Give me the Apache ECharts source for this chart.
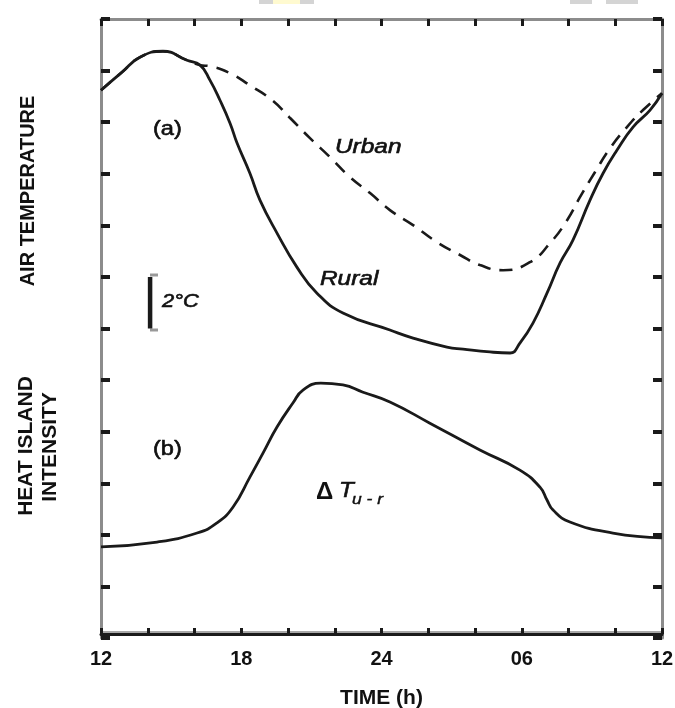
<!DOCTYPE html>
<html>
<head>
<meta charset="utf-8">
<script src="https://cdn.jsdelivr.net/npm/echarts@6/dist/echarts.min.js"></script>
<style>
html,body{margin:0;padding:0;background:#fff;}
#chart{width:675px;height:708px;}
</style>
</head>
<body>
<div id="chart"></div>
<script>
// x: hours since 12:00 of day 1 (12..36), y: temperature in °C (relative), 2 °C per tick
const tickHours = [12, 18, 24, 30, 36];
const tickLabels = ['12', '18', '24', '06', '12'];

const ruralHours = [12.0,12.9,13.67,14.65,15.68,16.24,16.66,17.09,17.52,17.82,18.37,18.8,19.53,20.38,21.24,22.35,24.36,25.35,26.8,27.49,28.64,29.5,29.92,30.48,31.08,31.64,32.19,32.92,33.48,34.07,34.76,35.49,36.0];
const ruralTemp  = [21.24,21.94,22.52,22.75,22.40,22.21,21.63,20.85,19.96,19.19,18.02,16.98,15.70,14.38,13.37,12.60,11.94,11.63,11.28,11.20,11.09,11.05,11.43,12.21,13.37,14.54,15.43,16.98,18.02,18.91,19.81,20.47,21.12];

const urbanHours = [12.0,12.9,13.67,14.65,15.68,16.24,16.66,17.52,18.37,19.32,20.09,20.94,21.8,22.65,23.51,24.36,25.35,26.37,27.36,28.21,29.2,30.35,31.21,31.94,32.49,33.13,33.78,34.5,35.19,36.0];
const urbanTemp  = [21.24,21.94,22.52,22.75,22.40,22.21,22.17,21.90,21.43,20.85,20.16,19.38,18.64,17.87,17.25,16.59,16.01,15.35,14.85,14.46,14.26,14.57,15.31,16.20,17.09,18.06,18.99,19.81,20.47,21.12];

const heatHours = [12.0,14.4,16.11,16.96,17.65,18.37,18.93,19.53,20.21,20.64,21.4,22.35,23.21,24.36,26.07,28.21,29.92,30.78,31.08,31.34,32.06,33.9,36.0];
const heatDiff  = [3.53,3.72,4.07,4.46,5.08,6.24,7.17,8.18,9.11,9.61,9.88,9.81,9.53,9.15,8.33,7.29,6.51,5.85,5.35,4.96,4.50,4.07,3.88];

// 2 °C scale bar (hour, temperature)
const scaleBarHour = 14.1;
const scaleBarTemps = [12, 14];

const zip = (a, b) => a.map((v, i) => [v, b[i]]);

const FONT = "'Liberation Sans', Arial, Helvetica, sans-serif";
const INK = '#1a1a1a';
const FRAME = '#8c8c8c';

const chart = echarts.init(document.getElementById('chart'), null, {renderer: 'canvas'});

function txt(x, y, text, opts) {
  opts = opts || {};
  const size = opts.size || 20;
  const style = (opts.italic ? 'italic ' : '') + (opts.bold ? 'bold ' : '') + size + 'px ' + FONT;
  return {
    type: 'text',
    x: x, y: y,
    scaleX: opts.scaleX || 1,
    rotation: opts.rotation || 0,
    z: 100,
    silent: true,
    style: {
      text: text,
      font: style,
      fill: opts.color || '#111',
      stroke: opts.stroke ? '#111' : null,
      lineWidth: opts.stroke || 0,
      align: opts.align || 'left',
      textAlign: opts.align || 'left',
      verticalAlign: 'middle',
      textVerticalAlign: 'middle'
    }
  };
}

const hiddenLabel = {show: false};

const option = {
  animation: false,
  backgroundColor: '#fff',
  grid: {left: 101, right: 13, top: 19, bottom: 70, containLabel: false, outerBoundsMode: 'none'},
  xAxis: [
    {
      type: 'value', position: 'bottom', min: 12, max: 36, interval: 2, offset: -4,
      axisLine: {show: true, onZero: false, lineStyle: {color: INK, width: 3}},
      axisTick: {show: true, inside: true, length: 6, lineStyle: {color: INK, width: 3}},
      axisLabel: {
        show: true, margin: 15, color: '#111', fontFamily: FONT, fontWeight: 'bold', fontSize: 20,
        showMinLabel: true, showMaxLabel: true,
        formatter: function (v) { const i = tickHours.indexOf(v); return i >= 0 ? tickLabels[i] : ''; }
      },
      splitLine: {show: false},
      name: 'TIME (h)', nameLocation: 'middle', nameGap: 54,
      nameTextStyle: {color: '#111', fontFamily: FONT, fontWeight: 'bold', fontSize: 21}
    },
    {
      type: 'value', position: 'bottom', min: 12, max: 36, interval: 2, offset: -6,
      axisLine: {show: true, onZero: false, lineStyle: {color: '#a8a8a8', width: 2}},
      axisTick: {show: false}, axisLabel: hiddenLabel, splitLine: {show: false}
    },
    {
      type: 'value', position: 'top', min: 12, max: 36, interval: 2,
      axisLine: {show: true, onZero: false, lineStyle: {color: FRAME, width: 3}},
      axisTick: {show: true, inside: true, length: 7, lineStyle: {color: INK, width: 3}},
      axisLabel: hiddenLabel, splitLine: {show: false}
    }
  ],
  yAxis: [
    {
      type: 'value', position: 'left', min: 0, max: 24, interval: 2,
      axisLine: {show: true, onZero: false, lineStyle: {color: FRAME, width: 3}},
      axisTick: {show: true, inside: true, length: 9, lineStyle: {color: INK, width: 4}},
      axisLabel: hiddenLabel, splitLine: {show: false}
    },
    {
      type: 'value', position: 'right', min: 0, max: 24, interval: 2,
      axisLine: {show: true, onZero: false, lineStyle: {color: FRAME, width: 3}},
      axisTick: {show: true, inside: true, length: 9, lineStyle: {color: INK, width: 4}},
      axisLabel: hiddenLabel, splitLine: {show: false}
    }
  ],
  series: [
    {
      name: 'Rural', type: 'line', xAxisIndex: 0, yAxisIndex: 0,
      data: zip(ruralHours, ruralTemp), smooth: 0.5,
      symbol: 'none', lineStyle: {color: INK, width: 2.8}, z: 5
    },
    {
      name: 'Urban', type: 'line', xAxisIndex: 0, yAxisIndex: 0,
      data: zip(urbanHours, urbanTemp), smooth: 0.5,
      symbol: 'none', lineStyle: {color: INK, width: 2.6, type: [13, 9]}, z: 4
    },
    {
      name: 'Heat island intensity', type: 'line', xAxisIndex: 0, yAxisIndex: 0,
      data: zip(heatHours, heatDiff), smooth: 0.5,
      symbol: 'none', lineStyle: {color: INK, width: 2.8}, z: 5
    },
    {
      name: 'scale', type: 'line', xAxisIndex: 0, yAxisIndex: 0,
      data: scaleBarTemps.map(t => [scaleBarHour, t]),
      symbol: 'none', lineStyle: {color: INK, width: 4.5}, z: 5
    }
  ],
  graphic: [
    // faint crop artifacts at the very top of the reference image
    {type: 'rect', shape: {x: 259, y: 0, width: 14, height: 4}, style: {fill: '#d4d4d4'}, silent: true},
    {type: 'rect', shape: {x: 273, y: 0, width: 27, height: 4}, style: {fill: '#fffad0'}, silent: true},
    {type: 'rect', shape: {x: 300, y: 0, width: 14, height: 4}, style: {fill: '#d4d4d4'}, silent: true},
    {type: 'rect', shape: {x: 570, y: 0, width: 22, height: 4}, style: {fill: '#d4d4d4'}, silent: true},
    {type: 'rect', shape: {x: 606, y: 0, width: 32, height: 4}, style: {fill: '#d4d4d4'}, silent: true},
    // scale bar serifs
    {type: 'line', shape: {x1: 150, y1: 275, x2: 158, y2: 275}, style: {stroke: '#999', lineWidth: 3}, silent: true},
    {type: 'line', shape: {x1: 150, y1: 330, x2: 158, y2: 330}, style: {stroke: '#999', lineWidth: 3}, silent: true},
    // annotations
    txt(153, 129, '(a)', {size: 20, scaleX: 1.18, stroke: 0.6}),
    txt(335, 147, 'Urban', {size: 20, italic: true, scaleX: 1.22, stroke: 0.6}),
    txt(320, 279, 'Rural', {size: 20, italic: true, scaleX: 1.22, stroke: 0.6}),
    txt(162, 302, '2°C', {size: 19, italic: true, scaleX: 1.15, stroke: 0.6}),
    txt(153, 449, '(b)', {size: 20, scaleX: 1.18, stroke: 0.6}),
    txt(316, 492, 'Δ', {size: 24, bold: true, scaleX: 1.0}),
    txt(339, 491, 'T', {size: 22, italic: true, scaleX: 1.1, stroke: 0.6}),
    txt(352, 500, 'u - r', {size: 14, italic: true, scaleX: 1.25, stroke: 0.4}),
    // y-axis titles
    txt(28, 191, 'AIR TEMPERATURE', {size: 20, bold: true, align: 'center', rotation: Math.PI / 2}),
    txt(26, 446, 'HEAT ISLAND', {size: 21, bold: true, align: 'center', rotation: Math.PI / 2}),
    txt(50, 447, 'INTENSITY', {size: 21, bold: true, align: 'center', rotation: Math.PI / 2})
  ]
};

chart.setOption(option);
</script>
</body>
</html>
